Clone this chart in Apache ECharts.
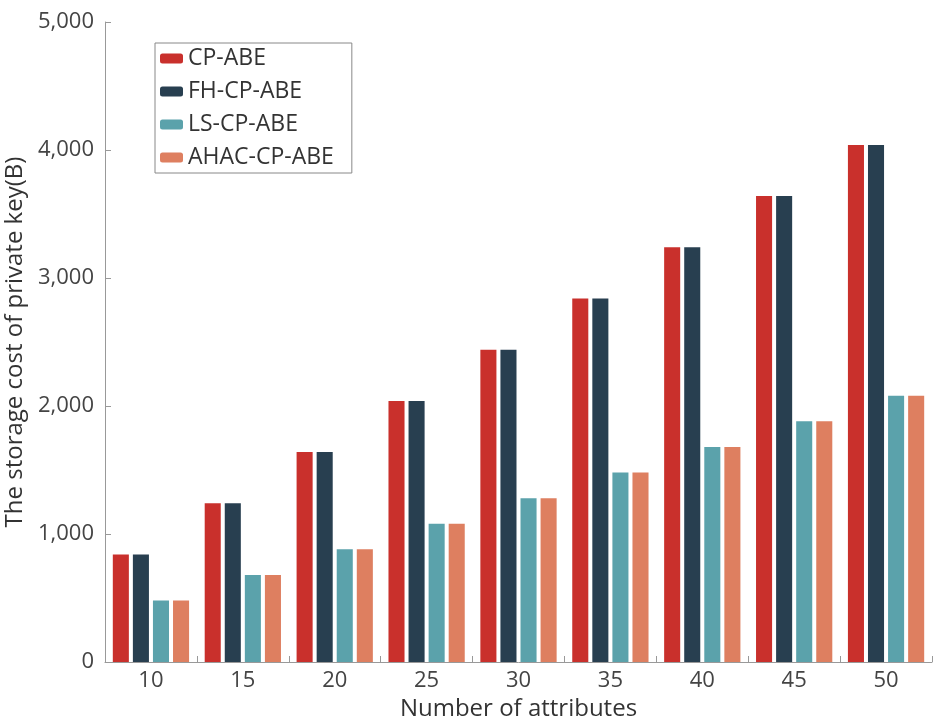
<!DOCTYPE html>
<html>
<head>
<meta charset="utf-8">
<script src="https://cdn.jsdelivr.net/npm/echarts@6/dist/echarts.min.js"></script>
<style>html,body{margin:0;padding:0;background:#fff}#c{width:944px;height:718px}</style>
</head>
<body>
<div id="c"></div>
<script>
const categories = ['10','15','20','25','30','35','40','45','50'];
const seriesNames = ['CP-ABE','FH-CP-ABE','LS-CP-ABE','AHAC-CP-ABE'];
const cpAbe = [840,1240,1640,2040,2440,2840,3240,3640,4040];
const fhCpAbe = [840,1240,1640,2040,2440,2840,3240,3640,4040];
const lsCpAbe = [480,680,880,1080,1280,1480,1680,1880,2080];
const ahacCpAbe = [480,680,880,1080,1280,1480,1680,1880,2080];
const colors = ['#c9302c','#283f50','#5ba2ab','#de7f60'];
const values = [cpAbe, fhCpAbe, lsCpAbe, ahacCpAbe];

const chart = echarts.init(document.getElementById('c'));
chart.setOption({
  animation:false,
  backgroundColor:'#fff',
  textStyle:{fontFamily:'Open Sans'},
  grid:{left:105,right:12,top:22,bottom:56,containLabel:false,outerBoundsMode:'none'},
  legend:{
    orient:'vertical',left:155,top:43,
    borderColor:'#888',borderWidth:1,padding:[4,18,4,5],
    itemWidth:23,itemHeight:10,itemGap:10,
    icon:'roundRect',
    textStyle:{fontSize:23,color:'#333',fontFamily:'Open Sans',lineHeight:23},
    data:seriesNames
  },
  xAxis:{
    type:'category',data:categories,
    name:'Number of attributes',nameLocation:'middle',nameGap:29,
    nameTextStyle:{fontSize:24,color:'#333'},
    axisLine:{lineStyle:{color:'#999'}},
    axisTick:{show:true,inside:true,length:6,lineStyle:{color:'#999'}},
    axisLabel:{fontSize:22,color:'#444',margin:8}
  },
  yAxis:{
    type:'value',min:0,max:5000,interval:1000,
    name:'The storage cost of private key(B)',nameLocation:'middle',nameGap:71,
    nameTextStyle:{fontSize:24,color:'#333'},
    axisLine:{show:true,lineStyle:{color:'#999'}},
    axisTick:{show:true,inside:true,length:6,lineStyle:{color:'#999'}},
    splitLine:{show:false},
    axisLabel:{fontSize:22,color:'#444',margin:11,formatter:v=>v.toLocaleString('en-US')}
  },
  series: seriesNames.map((n,i)=>({
    name:n,type:'bar',data:values[i],
    itemStyle:{color:colors[i]},
    barGap:'25%',barCategoryGap:'17%'
  }))
});
</script>
</body>
</html>
